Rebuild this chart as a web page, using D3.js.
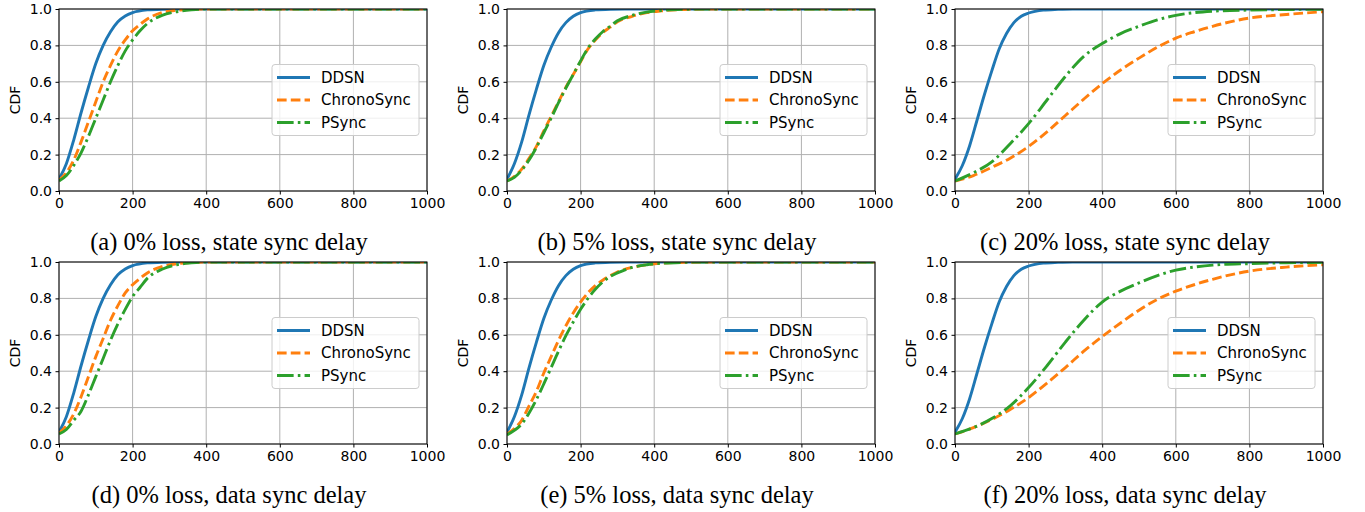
<!DOCTYPE html>
<html lang="en">
<head>
<meta charset="UTF-8">
<title>Sync delay CDF</title>
<script src="https://d3js.org/d3.v7.min.js"></script>
<style>
    body { margin: 0; background: #fff; }
    .tick text { font-family: "DejaVu Sans", sans-serif; font-size: 14px; fill: #000; }
    .domain { display: none; }
    .tick line { stroke: #000; stroke-width: 1px; }
    .grid line { stroke: #b0b0b0; stroke-width: 1px; }
    .caption { font-family: "Liberation Serif", "Times New Roman", serif; font-size: 24.5px; fill: #000; }
    .ylab { font-family: "DejaVu Sans", sans-serif; font-size: 14px; fill: #000; }
    .legend text { font-family: "DejaVu Sans", sans-serif; font-size: 15px; fill: #000; }
    .curve { fill: none; }
</style>
</head>
<body>
<svg id="chart" width="1365" height="512"></svg>
<script>
// ---- data: [delay, CDF] ----
var seriesNames = ["DDSN", "ChronoSync", "PSync"];
var xTicks = [0, 200, 400, 600, 800, 1000];
var yTicks = [0, 0.2, 0.4, 0.6, 0.8, 1.0];
var captions = [
    "(a) 0% loss, state sync delay", "(b) 5% loss, state sync delay", "(c) 20% loss, state sync delay",
    "(d) 0% loss, data sync delay", "(e) 5% loss, data sync delay", "(f) 20% loss, data sync delay"
];

var ddsn_a = [[0,0.065],[20,0.15],[40,0.28],[60,0.43],[80,0.57],[100,0.70],[120,0.80],[140,0.875],[160,0.93],[180,0.962],[200,0.98],[240,0.995],[280,0.999],[320,1],[1000,1]];
var chrono_a = [[0,0.06],[20,0.10],[40,0.17],[60,0.27],[80,0.38],[100,0.49],[120,0.60],[140,0.69],[160,0.77],[180,0.83],[200,0.88],[220,0.915],[240,0.945],[280,0.98],[320,0.993],[360,0.998],[400,1],[1000,1]];
var psync_a = [[0,0.055],[20,0.085],[40,0.14],[60,0.21],[80,0.30],[100,0.40],[120,0.50],[140,0.60],[160,0.69],[180,0.77],[200,0.83],[220,0.88],[240,0.92],[280,0.965],[320,0.985],[360,0.995],[400,1],[1000,1]];

var ddsn_b = [[0,0.065],[20,0.15],[40,0.27],[60,0.42],[80,0.56],[100,0.69],[120,0.79],[140,0.87],[160,0.925],[180,0.96],[200,0.98],[240,0.995],[280,0.999],[320,1],[1000,1]];
var chrono_b = [[0,0.055],[20,0.08],[40,0.12],[60,0.18],[80,0.245],[100,0.33],[120,0.41],[140,0.49],[160,0.57],[180,0.64],[200,0.71],[220,0.78],[240,0.83],[260,0.87],[280,0.90],[300,0.93],[340,0.96],[380,0.98],[420,0.99],[480,0.997],[550,1],[1000,1]];
var psync_b = [[0,0.055],[20,0.075],[40,0.115],[60,0.17],[80,0.24],[100,0.32],[120,0.40],[140,0.485],[160,0.565],[180,0.64],[200,0.715],[220,0.785],[240,0.835],[260,0.875],[280,0.905],[300,0.935],[340,0.965],[380,0.983],[420,0.992],[480,0.998],[550,1],[1000,1]];

var ddsn_c = [[0,0.065],[20,0.14],[40,0.25],[60,0.39],[80,0.53],[100,0.66],[120,0.78],[140,0.865],[160,0.925],[180,0.96],[200,0.978],[240,0.994],[280,0.998],[320,1],[1000,1]];
var chrono_c = [[0,0.055],[50,0.085],[100,0.13],[150,0.18],[200,0.245],[250,0.325],[300,0.415],[350,0.505],[400,0.59],[450,0.665],[500,0.73],[550,0.79],[600,0.84],[650,0.875],[700,0.905],[800,0.95],[900,0.97],[1000,0.985]];
var psync_c = [[0,0.055],[50,0.10],[100,0.16],[150,0.26],[200,0.37],[250,0.50],[300,0.63],[350,0.74],[400,0.81],[450,0.865],[500,0.905],[550,0.94],[600,0.965],[650,0.98],[700,0.988],[800,0.994],[900,0.997],[1000,0.999]];

var ddsn_d = [[0,0.065],[20,0.15],[40,0.28],[60,0.43],[80,0.57],[100,0.70],[120,0.80],[140,0.875],[160,0.93],[180,0.962],[200,0.98],[240,0.995],[280,0.999],[320,1],[1000,1]];
var chrono_d = [[0,0.06],[20,0.10],[40,0.165],[60,0.26],[80,0.37],[100,0.48],[120,0.58],[140,0.68],[160,0.76],[180,0.83],[200,0.875],[220,0.91],[240,0.94],[280,0.975],[320,0.99],[360,0.997],[400,1],[1000,1]];
var psync_d = [[0,0.055],[20,0.08],[40,0.13],[60,0.18],[80,0.27],[100,0.37],[120,0.47],[140,0.57],[160,0.66],[180,0.74],[200,0.81],[220,0.86],[240,0.91],[280,0.96],[320,0.985],[360,0.995],[400,1],[1000,1]];

var ddsn_e = [[0,0.065],[20,0.15],[40,0.27],[60,0.42],[80,0.56],[100,0.69],[120,0.79],[140,0.87],[160,0.925],[180,0.96],[200,0.98],[240,0.995],[280,0.999],[320,1],[1000,1]];
var chrono_e = [[0,0.055],[20,0.085],[40,0.13],[60,0.21],[80,0.29],[100,0.39],[120,0.48],[140,0.57],[160,0.65],[180,0.72],[200,0.78],[220,0.83],[240,0.87],[260,0.90],[280,0.925],[300,0.945],[340,0.97],[380,0.985],[420,0.993],[480,0.998],[550,1],[1000,1]];
var psync_e = [[0,0.05],[20,0.075],[40,0.11],[60,0.17],[80,0.245],[100,0.33],[120,0.42],[140,0.51],[160,0.595],[180,0.67],[200,0.74],[220,0.80],[240,0.85],[260,0.89],[280,0.92],[300,0.94],[340,0.97],[380,0.985],[420,0.993],[480,0.998],[550,1],[1000,1]];

var ddsn_f = [[0,0.065],[20,0.14],[40,0.25],[60,0.39],[80,0.53],[100,0.66],[120,0.78],[140,0.865],[160,0.925],[180,0.96],[200,0.978],[240,0.994],[280,0.998],[320,1],[1000,1]];
var chrono_f = [[0,0.055],[50,0.09],[100,0.135],[150,0.19],[200,0.255],[250,0.335],[300,0.42],[350,0.51],[400,0.59],[450,0.665],[500,0.735],[550,0.795],[600,0.84],[650,0.875],[700,0.905],[800,0.95],[900,0.972],[1000,0.985]];
var psync_f = [[0,0.055],[50,0.09],[100,0.14],[150,0.21],[200,0.31],[250,0.43],[300,0.56],[350,0.68],[400,0.78],[450,0.84],[500,0.885],[550,0.925],[600,0.955],[650,0.972],[700,0.983],[800,0.991],[900,0.996],[1000,0.998]];

var panelSeries = [
    [ddsn_a, chrono_a, psync_a], [ddsn_b, chrono_b, psync_b], [ddsn_c, chrono_c, psync_c],
    [ddsn_d, chrono_d, psync_d], [ddsn_e, chrono_e, psync_e], [ddsn_f, chrono_f, psync_f]
];

// ---- layout / style ----
var configuration = {
    "col_left": [59, 507, 955],
    "row_top": [9, 262],
    "width": 368,
    "height": 182,
    "caption_offset": 241,
    "caption_shift": -14,
    "legend_w": 147,
    "legend_h": 71,
    "legend_right_gap": 8,
    "line_width": 2.9,
    "dash_unit": 2.6
};
var colors = ["#1f77b4", "#ff7f0e", "#2ca02c"];
var lw = configuration.line_width, du = configuration.dash_unit;
var dashes = ["none", (3.7 * du) + "," + (1.6 * du), (6.4 * du) + "," + (1.6 * du) + "," + du + "," + (1.6 * du)];

var svg = d3.select("#chart");
var W = configuration.width, H = configuration.height;

var x = d3.scaleLinear().domain([0, 1000]).range([0, W]);
var y = d3.scaleLinear().domain([0, 1]).range([H, 0]);

var line = d3.line()
        .x(function (d) { return x(d[0]); })
        .y(function (d) { return y(d[1]); })
        .curve(d3.curveMonotoneX);

svg.append("defs").append("clipPath").attr("id", "plotclip")
        .append("rect").attr("x", 0).attr("y", 0).attr("width", W).attr("height", H);

captions.forEach(function (cap, p) {
    var col = p % 3, row = Math.floor(p / 3);
    var g = svg.append("g")
            .attr("transform", "translate(" + configuration.col_left[col] + "," + configuration.row_top[row] + ")");

    // grid
    var grid = g.append("g").attr("class", "grid");
    grid.selectAll("line.v").data(xTicks).enter().append("line")
            .attr("x1", function (d) { return x(d); }).attr("x2", function (d) { return x(d); })
            .attr("y1", 0).attr("y2", H);
    grid.selectAll("line.h").data(yTicks).enter().append("line")
            .attr("y1", function (d) { return y(d); }).attr("y2", function (d) { return y(d); })
            .attr("x1", 0).attr("x2", W);

    // curves
    var plot = g.append("g").attr("clip-path", "url(#plotclip)");
    panelSeries[p].forEach(function (s, i) {
        plot.append("path")
                .datum(s)
                .attr("class", "curve")
                .attr("d", line)
                .attr("stroke", colors[i])
                .attr("stroke-width", lw)
                .attr("stroke-dasharray", dashes[i]);
    });

    // axes
    g.append("g").attr("transform", "translate(0," + H + ")")
            .call(d3.axisBottom(x).tickValues(xTicks).tickSize(3.5).tickPadding(3.5).tickFormat(d3.format("d")));
    g.append("g")
            .call(d3.axisLeft(y).tickValues(yTicks).tickSize(3.5).tickPadding(3.5).tickFormat(d3.format(".1f")));
    g.append("rect").attr("width", W).attr("height", H)
            .attr("fill", "none").attr("stroke", "#000").attr("stroke-width", 1);

    g.append("text").attr("class", "ylab")
            .attr("transform", "translate(-39," + (H / 2) + ") rotate(-90)")
            .attr("text-anchor", "middle")
            .text("CDF");

    // legend
    var lg = g.append("g").attr("class", "legend")
            .attr("transform", "translate(" + (W - configuration.legend_right_gap - configuration.legend_w) + "," + (H / 2 - configuration.legend_h / 2) + ")");
    lg.append("rect").attr("width", configuration.legend_w).attr("height", configuration.legend_h)
            .attr("rx", 3).attr("fill", "#fff").attr("fill-opacity", 0.8)
            .attr("stroke", "#cccccc").attr("stroke-width", 1);
    seriesNames.forEach(function (name, i) {
        var ry = configuration.legend_h / 2 + (i - 1) * 22.5;
        lg.append("line").attr("x1", 5).attr("x2", 38).attr("y1", ry).attr("y2", ry)
                .attr("stroke", colors[i]).attr("stroke-width", lw).attr("stroke-dasharray", dashes[i]);
        lg.append("text").attr("x", 49).attr("y", ry).attr("dy", "0.36em").text(name);
    });

    svg.append("text").attr("class", "caption")
            .attr("x", configuration.col_left[col] + W / 2 + configuration.caption_shift)
            .attr("y", configuration.row_top[row] + configuration.caption_offset)
            .attr("text-anchor", "middle")
            .text(cap);
});
</script>
</body>
</html>
